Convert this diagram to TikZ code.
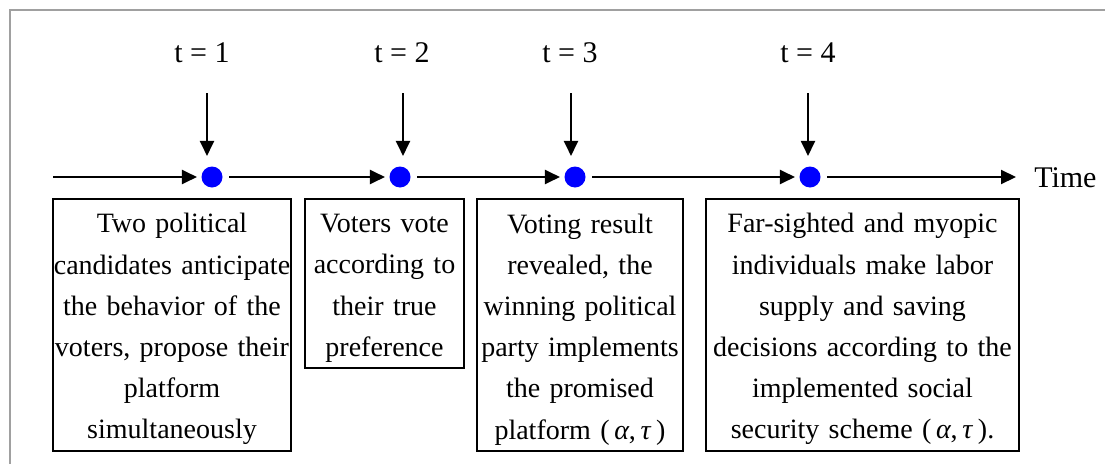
\documentclass[tikz,border=0pt]{standalone}
\usepackage{fontspec}
\setmainfont{Liberation Serif}
\usetikzlibrary{arrows.meta}
\definecolor{dotblue}{RGB}{0,0,255}
\definecolor{framegray}{RGB}{160,160,160}
\begin{document}
\begin{tikzpicture}[x=0.75pt,y=-0.75pt,
  box/.style={draw, line width=1.5pt, inner xsep=0pt, inner ysep=0pt, align=center,
    font=\fontsize{21}{30.9}\selectfont, anchor=north},
  dot/.style={circle, fill=dotblue, minimum size=15.75pt, inner sep=0pt, outer sep=0pt},
  lab/.style={font=\fontsize{22.5}{27}\selectfont, inner sep=0pt},
  tl/.style={line width=1.5pt, -{Triangle[length=11.25pt,width=10.5pt]}, shorten >=3.4pt},
  fromdot/.style={shorten <=4.9pt},
]
\useasboundingbox (0,0) rectangle (1105,464);
% frame
\draw[line width=1.5pt, framegray] (10,464) -- (10,10) -- (1105,10);

% time line dots
\coordinate (start) at (53,177);
\node[dot] (d1) at (212,177) {};
\node[dot] (d2) at (400,177) {};
\node[dot] (d3) at (575,177) {};
\node[dot] (d4) at (810,177) {};
\node[lab, anchor=west] (time) at (1034,178) {Time};

\draw[tl] (start) -- (d1);
\draw[tl, fromdot] (d1) -- (d2);
\draw[tl, fromdot] (d2) -- (d3);
\draw[tl, fromdot] (d3) -- (d4);
\draw[tl, fromdot, shorten >=13.5pt] (d4) -- (d4 -| time.west);

% labels
\node[lab] (t1) at (202,53) {t = 1};
\node[lab] (t2) at (402,53) {t = 2};
\node[lab] (t3) at (570,53) {t = 3};
\node[lab] (t4) at (808,53) {t = 4};

\coordinate (a1) at (207,93);
\coordinate (a2) at (403,93);
\coordinate (a3) at (571,93);
\coordinate (a4) at (808,93);
\draw[tl, shorten >=7.9pt] (a1) -- (a1 |- d1.north);
\draw[tl, shorten >=7.9pt] (a2) -- (a2 |- d2.north);
\draw[tl, shorten >=7.9pt] (a3) -- (a3 |- d3.north);
\draw[tl, shorten >=7.9pt] (a4) -- (a4 |- d4.north);

% boxes
\node[box, text width=178.5pt, minimum height=189pt] (b1) at (172,198)
  {\rule{0pt}{21pt}Two political\\candidates anticipate\\the behavior of the\\voters, propose their\\platform\\simultaneously};
\node[box, text width=119.25pt, minimum height=126.75pt] (b2) at (384.5,198)
  {\rule{0pt}{21pt}Voters vote\\according to\\their true\\preference};
\node[box, text width=154.5pt, minimum height=189pt] (b3) at (580,198)
  {\rule{0pt}{21pt}Voting result\\revealed, the\\winning political\\party implements\\the promised\\platform (\,\textit{α},\,\textit{τ}\,)};
\node[box, text width=234.75pt, minimum height=189pt] (b4) at (862.5,198)
  {\rule{0pt}{21pt}Far-sighted and myopic\\individuals make labor\\supply and saving\\decisions according to the\\implemented social\\security scheme (\,\textit{α},\,\textit{τ}\,).};
\end{tikzpicture}
\end{document}
